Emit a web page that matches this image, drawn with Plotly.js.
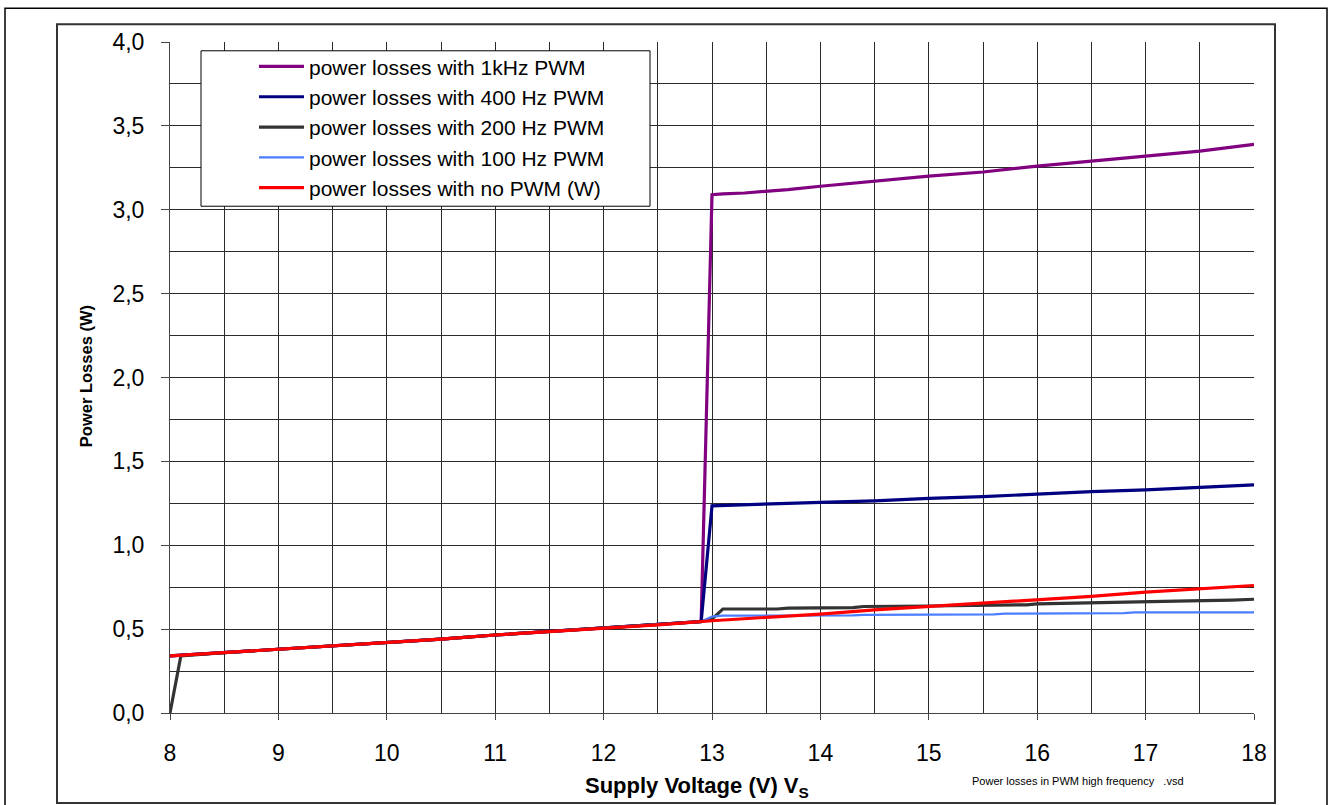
<!DOCTYPE html>
<html>
<head>
<meta charset="utf-8">
<script src="https://cdn.plot.ly/plotly-3.0.1.min.js"></script>
<style>
html,body{margin:0;padding:0;background:#fff;}
#chart{width:1329px;height:805px;}
</style>
</head>
<body>
<div id="chart"></div>
<script>
// ---- data ----
const seriesNames = [
  "power losses with 1kHz PWM",
  "power losses with 400 Hz PWM",
  "power losses with 200 Hz PWM",
  "power losses with 100 Hz PWM",
  "power losses with no PWM (W)"
];

const v1k   = [8, 8.5, 9, 9.5, 10, 10.5, 11, 11.5, 12, 12.5, 12.9, 13, 13.1, 13.3, 13.5, 13.7, 14, 14.5, 15, 15.5, 16, 16.5, 17, 17.5, 18];
const p1k   = [0.34, 0.36, 0.38, 0.40, 0.42, 0.44, 0.465, 0.485, 0.505, 0.525, 0.545, 3.09, 3.095, 3.10, 3.11, 3.12, 3.14, 3.17, 3.20, 3.225, 3.26, 3.29, 3.32, 3.35, 3.39];

const v400  = [8, 8.5, 9, 9.5, 10, 10.5, 11, 11.5, 12, 12.5, 12.9, 13, 13.2, 13.5, 13.7, 14, 14.5, 15, 15.5, 16, 16.5, 17, 17.5, 18];
const p400  = [0.34, 0.36, 0.38, 0.40, 0.42, 0.44, 0.465, 0.485, 0.505, 0.525, 0.545, 1.235, 1.24, 1.245, 1.25, 1.255, 1.265, 1.28, 1.29, 1.305, 1.32, 1.33, 1.345, 1.36];

const v200  = [8, 8.1, 8.5, 9, 9.5, 10, 10.5, 11, 11.5, 12, 12.5, 12.9, 13, 13.1, 13.6, 13.7, 14.3, 14.4, 15, 15.3, 15.9, 16, 16.5, 16.9, 17.4, 17.8, 18];
const p200  = [0.0, 0.34, 0.36, 0.38, 0.40, 0.42, 0.44, 0.465, 0.485, 0.505, 0.525, 0.545, 0.56, 0.62, 0.62, 0.625, 0.628, 0.635, 0.638, 0.64, 0.645, 0.65, 0.655, 0.66, 0.668, 0.673, 0.678];

const v100  = [8, 8.5, 9, 9.5, 10, 10.5, 11, 11.5, 12, 12.5, 12.9, 13, 13.1, 14.3, 14.4, 15.6, 15.7, 16.8, 16.9, 18];
const p100  = [0.34, 0.36, 0.38, 0.40, 0.42, 0.44, 0.465, 0.485, 0.505, 0.525, 0.545, 0.575, 0.58, 0.582, 0.585, 0.588, 0.592, 0.595, 0.60, 0.60];

const vNo   = [8, 8.5, 9, 9.5, 10, 10.5, 11, 11.5, 12, 12.5, 13, 13.5, 14, 14.5, 15, 15.5, 16, 16.5, 17, 17.5, 18];
const pNo   = [0.34, 0.36, 0.38, 0.40, 0.42, 0.44, 0.465, 0.485, 0.505, 0.525, 0.55, 0.57, 0.59, 0.615, 0.635, 0.655, 0.675, 0.695, 0.72, 0.74, 0.76];

const xTickVals = [8, 9, 10, 11, 12, 13, 14, 15, 16, 17, 18];
const yTickVals = [0, 0.5, 1, 1.5, 2, 2.5, 3, 3.5, 4];

// ---- styles ----
const FONT = "Liberation Sans, Arial, sans-serif";
const colors = ["#800080", "#000080", "#333333", "#4a7dff", "#ff0000"];
const widths = [3.2, 3.2, 3.2, 2.2, 3.2];
const xs = [v1k, v400, v200, v100, vNo];
const ys = [p1k, p400, p200, p100, pNo];

const traces = seriesNames.map((n, i) => ({
  type: "scatter", mode: "lines", name: n,
  x: xs[i], y: ys[i],
  line: {color: colors[i], width: widths[i]},
  hoverinfo: "x+y+name"
}));

// paper-coordinate helpers (plot area: 170..1254 px, 41.7..713 px)
const L = 170, R = 1254, T = 41.7, B = 713;
const px = v => (v - L) / (R - L);
const py = v => (B - v) / (B - T);

const layout = {
  width: 1329, height: 805,
  margin: {l: L, r: 1329 - R, t: T, b: 805 - B, pad: 0},
  paper_bgcolor: "#fff", plot_bgcolor: "#fff",
  separators: ",.",
  showlegend: true,
  font: {family: FONT, color: "#000"},
  xaxis: {
    range: [8, 18], tickvals: xTickVals, tickformat: "d",
    showgrid: true, gridcolor: "#2a2a2a", gridwidth: 1,
    minor: {dtick: 0.5, tick0: 8, showgrid: true, gridcolor: "#2a2a2a", gridwidth: 1, ticks: ""},
    ticks: "outside", ticklen: 6, tickcolor: "#444", tickwidth: 1,
    showline: true, linecolor: "#444", linewidth: 1, mirror: false,
    zeroline: false, ticklabelstandoff: 13,
    tickfont: {family: FONT, size: 23, color: "#000"}
  },
  yaxis: {
    range: [0, 4], tickvals: yTickVals, tickformat: ".1f",
    showgrid: true, gridcolor: "#2a2a2a", gridwidth: 1,
    minor: {dtick: 0.25, tick0: 0, showgrid: true, gridcolor: "#2a2a2a", gridwidth: 1, ticks: ""},
    ticks: "outside", ticklen: 8, tickcolor: "#444", tickwidth: 1,
    showline: true, linecolor: "#444", linewidth: 1,
    zeroline: false, ticklabelstandoff: 12,
    tickfont: {family: FONT, size: 23, color: "#000"}
  },
  legend: {
    x: px(254), y: py(46), xanchor: "left", yanchor: "top",
    bgcolor: "rgba(0,0,0,0)", borderwidth: 0,
    font: {family: FONT, size: 21, color: "#000"},
    itemwidth: 45, tracegroupgap: 0, traceorder: "normal"
  },
  shapes: [
    // outer frame
    {type: "rect", xref: "paper", yref: "paper", x0: px(5), x1: px(1327), y0: py(815), y1: py(8),
     line: {color: "#000", width: 1.5}, fillcolor: "rgba(0,0,0,0)", layer: "below"},
    // inner frame
    {type: "rect", xref: "paper", yref: "paper", x0: px(57), x1: px(1275), y0: py(803), y1: py(24),
     line: {color: "#333", width: 2}, fillcolor: "rgba(0,0,0,0)", layer: "below"},
    // legend box
    {type: "rect", xref: "paper", yref: "paper", x0: px(201), x1: px(650), y0: py(206), y1: py(50.5),
     line: {color: "#000", width: 1}, fillcolor: "#fff", layer: "above"}
  ],
  annotations: [
    {xref: "paper", yref: "paper", x: px(697), y: py(787), xanchor: "center", yanchor: "middle",
     showarrow: false, text: "<b>Supply Voltage (V) V<sub>S</sub></b>",
     font: {family: FONT, size: 22, color: "#000"}},
    {xref: "paper", yref: "paper", x: px(86), y: py(376), xanchor: "center", yanchor: "middle",
     showarrow: false, textangle: -90, text: "<b>Power Losses (W)</b>",
     font: {family: FONT, size: 16.5, color: "#000"}},
    {xref: "paper", yref: "paper", x: px(970), y: py(781), xanchor: "left", yanchor: "middle",
     showarrow: false, text: "Power losses in PWM high frequency&nbsp;&nbsp;&nbsp;.vsd",
     font: {family: FONT, size: 11, color: "#000"}}
  ]
};

Plotly.newPlot("chart", traces, layout, {displayModeBar: false, staticPlot: true});
</script>
</body>
</html>
